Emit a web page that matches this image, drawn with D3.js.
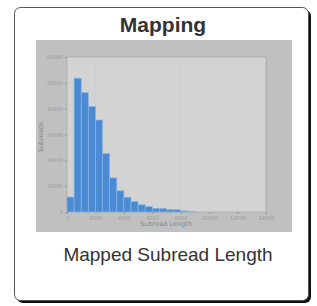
<!DOCTYPE html>
<html>
<head>
<meta charset="utf-8">
<script src="https://cdn.jsdelivr.net/npm/d3@7"></script>
<style>
  body { margin: 0; background: #fff; }
  svg { display: block; }
</style>
</head>
<body>
<div id="viz"></div>
<script>
// histogram bins (500 wide) and counts
var binStarts = [0, 500, 1000, 1500, 2000, 2500, 3000, 3500, 4000, 4500, 5000, 5500,
                 6000, 6500, 7000, 7500, 8000, 8500];
var counts = [5800, 51800, 46200, 40800, 35600, 22600, 13200, 8200, 5700, 4000, 2800, 2100,
              1400, 1400, 1000, 900, 400, 300];
var xTicks = [0, 2000, 4000, 6000, 8000, 10000, 12000, 14000];
var yTicks = [0, 10000, 20000, 30000, 40000, 50000, 60000];
var binWidth = 500;

var width = 317, height = 306;
var svg = d3.select('#viz').append('svg')
    .attr('width', width)
    .attr('height', height);

// card with hard shadow
svg.append('rect')
    .attr('x', 17).attr('y', 10)
    .attr('width', 294).attr('height', 293)
    .attr('rx', 6)
    .attr('fill', '#111');
svg.append('rect')
    .attr('x', 14.5).attr('y', 7.5)
    .attr('width', 294).attr('height', 293)
    .attr('rx', 6)
    .attr('fill', '#fff')
    .attr('stroke', '#555')
    .attr('stroke-width', 1);

svg.append('text')
    .attr('x', 163).attr('y', 32)
    .attr('text-anchor', 'middle')
    .attr('font-family', 'Liberation Sans, Arial, sans-serif')
    .attr('font-weight', 'bold')
    .attr('font-size', 21)
    .attr('fill', '#333')
    .text('Mapping');

// the thumbnail image
svg.append('rect')
    .attr('x', 36).attr('y', 40)
    .attr('width', 256).attr('height', 192)
    .attr('fill', '#c0c0c0');

var margin = { left: 67, right: 266, top: 57, bottom: 212 };
var xScale = d3.scaleLinear().domain([0, 14000]).range([margin.left, margin.right]);
var yScale = d3.scaleLinear().domain([0, 60000]).range([margin.bottom, margin.top]);

svg.append('rect')
    .attr('x', margin.left).attr('y', margin.top)
    .attr('width', margin.right - margin.left)
    .attr('height', margin.bottom - margin.top)
    .attr('fill', '#d3d3d3')
    .attr('stroke', '#a8a8a8')
    .attr('stroke-width', 0.8);

// faint grid
svg.append('g').selectAll('line')
    .data(xTicks.slice(1, -1))
    .join('line')
    .attr('x1', function (d) { return xScale(d); })
    .attr('x2', function (d) { return xScale(d); })
    .attr('y1', margin.top).attr('y2', margin.bottom)
    .attr('stroke', '#cbcbcb')
    .attr('stroke-width', 0.6);

svg.append('g').selectAll('rect')
    .data(binStarts)
    .join('rect')
    .attr('x', function (d) { return xScale(d); })
    .attr('y', function (d, i) { return yScale(counts[i]); })
    .attr('width', function (d) { return xScale(d + binWidth) - xScale(d); })
    .attr('height', function (d, i) { return yScale(0) - yScale(counts[i]); })
    .attr('fill', '#4a8bd3')
    .attr('stroke', '#86b4e4')
    .attr('stroke-width', 0.7);

var xAxis = svg.append('g')
    .attr('transform', 'translate(0,' + margin.bottom + ')')
    .call(d3.axisBottom(xScale).tickValues(xTicks).tickSize(2).tickPadding(2)
        .tickFormat(d3.format('d')));
var yAxis = svg.append('g')
    .attr('transform', 'translate(' + margin.left + ',0)')
    .call(d3.axisLeft(yScale).tickValues(yTicks).tickSize(2).tickPadding(2)
        .tickFormat(d3.format('d')));

[xAxis, yAxis].forEach(function (ax) {
    ax.select('.domain').remove();
    ax.selectAll('line').attr('stroke', '#999');
    ax.selectAll('text')
        .attr('fill', '#999')
        .attr('font-size', 5)
        .attr('font-family', 'DejaVu Sans, sans-serif');
});

svg.append('text')
    .attr('x', 166).attr('y', 226)
    .attr('text-anchor', 'middle')
    .attr('font-family', 'DejaVu Sans, sans-serif')
    .attr('font-size', 6.5)
    .attr('fill', '#888')
    .text('Subread Length');

svg.append('text')
    .attr('transform', 'translate(43,137) rotate(-90)')
    .attr('text-anchor', 'middle')
    .attr('font-family', 'DejaVu Sans, sans-serif')
    .attr('font-size', 6.5)
    .attr('fill', '#888')
    .text('Subreads');

svg.append('text')
    .attr('x', 168).attr('y', 261)
    .attr('text-anchor', 'middle')
    .attr('font-family', 'Liberation Sans, Arial, sans-serif')
    .attr('font-size', 19)
    .attr('fill', '#333')
    .text('Mapped Subread Length');
</script>
</body>
</html>
